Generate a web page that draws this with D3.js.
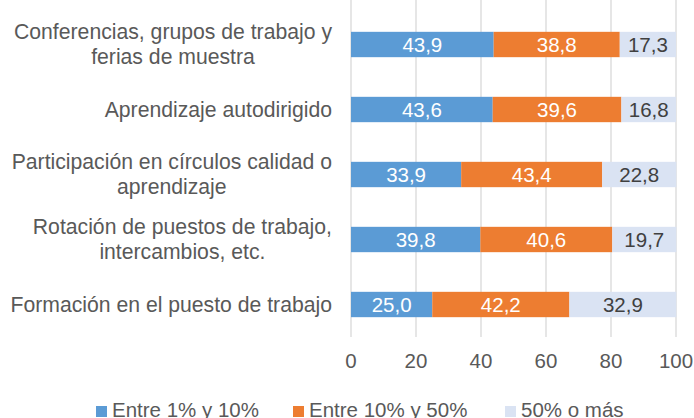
<!DOCTYPE html>
<html>
<head>
<meta charset="utf-8">
<script src="https://cdn.jsdelivr.net/npm/d3@7"></script>
<style>
  body { margin: 0; background: #fff; }
  svg { font-family: "Liberation Sans", Arial, sans-serif; }
</style>
</head>
<body>
<div id="chart"></div>
<script>
const categories = [
    ["Conferencias, grupos de trabajo y", "ferias de muestra"],
    ["Aprendizaje autodirigido"],
    ["Participación en círculos calidad o", "aprendizaje"],
    ["Rotación de puestos de trabajo,", "intercambios, etc."],
    ["Formación en el puesto de trabajo"]
];
const seriesNames = ["Entre 1% y 10%", "Entre 10% y 50%", "50% o más"];
const entre1y10 = [43.9, 43.6, 33.9, 39.8, 25.0];
const entre10y50 = [38.8, 39.6, 43.4, 40.6, 42.2];
const cincuentaOMas = [17.3, 16.8, 22.8, 19.7, 32.9];
const xTicks = [0, 20, 40, 60, 80, 100];

const colors = ["#5B9BD5", "#ED7D31", "#DAE3F3"];
const labelColors = ["#ffffff", "#ffffff", "#404040"];
const fontSize = 20.5;

const width = 694, height = 418;
const svg = d3.select("#chart").append("svg")
    .attr("width", width)
    .attr("height", height);

const x = d3.scaleLinear().domain([0, 100]).range([351, 676]);
const y = d3.scaleBand().domain(d3.range(categories.length)).range([12, 337]).paddingInner(0.61).paddingOuter(0.305);

// gridlines
svg.append("g")
    .selectAll("line")
    .data(xTicks)
    .enter().append("line")
    .attr("x1", d => x(d)).attr("x2", d => x(d))
    .attr("y1", 0).attr("y2", 337)
    .attr("stroke", "#d9d9d9")
    .attr("stroke-width", 1.3);

// stack
const rows = categories.map((c, i) => ({ i: i, s0: entre1y10[i], s1: entre10y50[i], s2: cincuentaOMas[i] }));
const stack = d3.stack().keys(["s0", "s1", "s2"])(rows);

const layers = svg.append("g")
    .selectAll("g")
    .data(stack)
    .enter().append("g")
    .attr("fill", (d, k) => colors[k]);

layers.selectAll("rect")
    .data(d => d)
    .enter().append("rect")
    .attr("x", d => x(d[0]))
    .attr("width", d => x(d[1]) - x(d[0]))
    .attr("y", d => y(d.data.i))
    .attr("height", y.bandwidth());

// value labels
stack.forEach((layer, k) => {
    svg.append("g")
        .selectAll("text")
        .data(layer)
        .enter().append("text")
        .attr("x", d => (x(d[0]) + x(d[1])) / 2)
        .attr("y", d => y(d.data.i) + y.bandwidth() / 2)
        .attr("dy", "0.35em")
        .attr("text-anchor", "middle")
        .attr("font-size", fontSize)
        .attr("fill", labelColors[k])
        .text(d => d3.format(".1f")(d[1] - d[0]).replace(".", ","));
});

// x axis tick labels
svg.append("g")
    .selectAll("text")
    .data(xTicks)
    .enter().append("text")
    .attr("x", d => x(d))
    .attr("y", 368)
    .attr("text-anchor", "middle")
    .attr("font-size", fontSize)
    .attr("fill", "#595959")
    .text(d => d);

// category labels: wrapped lines centred inside a right-aligned block
svg.append("g")
    .selectAll("text")
    .data(categories)
    .enter().append("text")
    .attr("font-size", 21.2)
    .attr("fill", "#595959")
    .attr("text-anchor", "middle")
    .each(function (lines, i) {
        const t = d3.select(this);
        const cy = y(i) + y.bandwidth() / 2;
        const lh = 25;
        const spans = lines.map((ln, j) => t.append("tspan")
            .attr("y", cy + (j - (lines.length - 1) / 2) * lh)
            .attr("dy", "0.35em")
            .text(ln));
        const w = d3.max(spans, s => s.node().getComputedTextLength());
        spans.forEach(s => s.attr("x", 332 - w / 2));
    });

// legend
const legendX = [96, 293, 505];
const legend = svg.append("g")
    .selectAll("g")
    .data(seriesNames)
    .enter().append("g")
    .attr("transform", (d, k) => `translate(${legendX[k]},0)`);

legend.append("rect")
    .attr("x", 0).attr("y", 406)
    .attr("width", 11).attr("height", 11)
    .attr("fill", (d, k) => colors[k]);

legend.append("text")
    .attr("x", 16)
    .attr("y", 417)
    .attr("font-size", fontSize)
    .attr("fill", "#595959")
    .text(d => d);
</script>
</body>
</html>
